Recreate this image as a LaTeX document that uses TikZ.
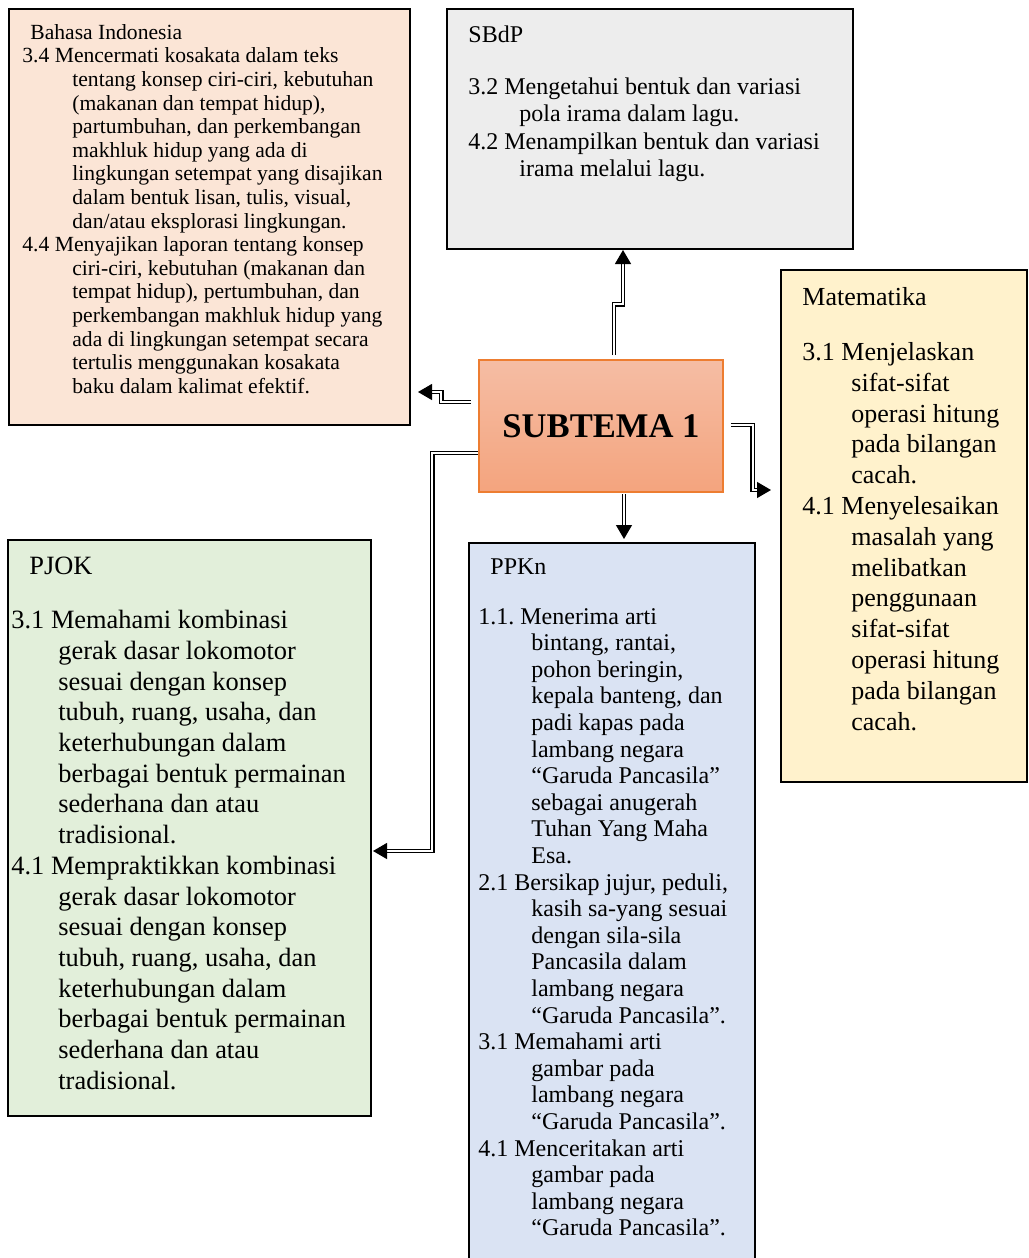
\documentclass[tikz,border=0pt]{standalone}
\usepackage{fontspec}
\setmainfont{Liberation Serif}
\usetikzlibrary{positioning,arrows.meta,fit,calc}
\definecolor{peach}{HTML}{FBE5D6}
\definecolor{lightgray}{HTML}{EDEDED}
\definecolor{mathyellow}{HTML}{FFF2CC}
\definecolor{sportgreen}{HTML}{E2EFDA}
\definecolor{civicblue}{HTML}{DAE3F3}
\definecolor{subtop}{HTML}{F5BDA4}
\definecolor{subbottom}{HTML}{F4A47E}
\definecolor{subline}{HTML}{ED7D31}
\newlength{\gantung}
\newcommand{\lanjut}{\hspace*{\gantung}}
\frenchspacing

\begin{document}
\begin{tikzpicture}[
  x=0.5pt, y=-0.5pt,
  box/.style={draw=black, line width=1pt, inner sep=0pt},
  teks/.style={anchor=north west, inner sep=0pt, align=left},
  gantung/.style={execute at begin node={\setlength{\gantung}{#1}}},
  link/.style={double, double distance=1.2pt, line width=0.6pt,
               -{Triangle[length=7pt,width=8pt]}}
]
  \useasboundingbox (0,0) rectangle (1028,1258);
  \clip (0,0) rectangle (1028,1258);

  % Subject boxes
  \node[box, fill=peach, fit={(9,9) (410,425)}] (bahasa) {};
  \node[box, fill=lightgray, fit={(447,9) (853,249)}] (sbdp) {};
  \node[box, fill=mathyellow, fit={(781,270) (1027,782)}] (mat) {};
  \node[box, fill=sportgreen, fit={(8,540) (371,1116)}] (pjok) {};
  \node[box, fill=civicblue, fit={(469,543) (755,1300)}] (ppkn) {};

  % Centre box
  \node[draw=subline, line width=0.8pt, inner sep=0pt, top color=subtop,
        bottom color=subbottom, fit={(479,360) (723,492)}] (sub) {};
  \node[font=\fontsize{17.3}{20}\selectfont\bfseries, inner sep=0pt] (subteks)
    at (sub.center) {SUBTEMA 1};

  % Texts
  \node[teks, gantung=25pt, font=\fontsize{10.8}{11.8}\selectfont] (bahasateks) at (22,24)
    {\hspace*{4pt}Bahasa Indonesia\\
     3.4 Mencermati kosakata dalam teks\\
     \lanjut tentang konsep ciri-ciri, kebutuhan\\
     \lanjut (makanan dan tempat hidup),\\
     \lanjut partumbuhan, dan perkembangan\\
     \lanjut makhluk hidup yang ada di\\
     \lanjut lingkungan setempat yang disajikan\\
     \lanjut dalam bentuk lisan, tulis, visual,\\
     \lanjut dan/atau eksplorasi lingkungan.\\
     4.4 Menyajikan laporan tentang konsep\\
     \lanjut ciri-ciri, kebutuhan (makanan dan\\
     \lanjut tempat hidup), pertumbuhan, dan\\
     \lanjut perkembangan makhluk hidup yang\\
     \lanjut ada di lingkungan setempat secara\\
     \lanjut tertulis menggunakan kosakata\\
     \lanjut baku dalam kalimat efektif.};

  \node[teks, gantung=25.5pt, font=\fontsize{12}{13.75}\selectfont] (sbdpteks) at (468,25)
    {SBdP\\[12.25pt]
     3.2 Mengetahui bentuk dan variasi\\
     \lanjut pola irama dalam lagu.\\
     4.2 Menampilkan bentuk dan variasi\\
     \lanjut irama melalui lagu.};

  \node[teks, gantung=24.5pt, font=\fontsize{13}{15.4}\selectfont] (matteks) at (802,287)
    {Matematika\\[12.1pt]
     3.1 Menjelaskan\\
     \lanjut sifat-sifat\\
     \lanjut operasi hitung\\
     \lanjut pada bilangan\\
     \lanjut cacah.\\
     4.1 Menyelesaikan\\
     \lanjut masalah yang\\
     \lanjut melibatkan\\
     \lanjut penggunaan\\
     \lanjut sifat-sifat\\
     \lanjut operasi hitung\\
     \lanjut pada bilangan\\
     \lanjut cacah.};

  \node[teks, gantung=23.5pt, font=\fontsize{13.2}{15.35}\selectfont] (pjokteks) at (11,557)
    {\hspace*{9pt}PJOK\\[11.6pt]
     3.1 Memahami kombinasi\\
     \lanjut gerak dasar lokomotor\\
     \lanjut sesuai dengan konsep\\
     \lanjut tubuh, ruang, usaha, dan\\
     \lanjut keterhubungan dalam\\
     \lanjut berbagai bentuk permainan\\
     \lanjut sederhana dan atau\\
     \lanjut tradisional.\\
     4.1 Mempraktikkan kombinasi\\
     \lanjut gerak dasar lokomotor\\
     \lanjut sesuai dengan konsep\\
     \lanjut tubuh, ruang, usaha, dan\\
     \lanjut keterhubungan dalam\\
     \lanjut berbagai bentuk permainan\\
     \lanjut sederhana dan atau\\
     \lanjut tradisional.};

  \node[teks, gantung=26.5pt, font=\fontsize{12}{13.3}\selectfont] (ppknteks) at (478,558)
    {\hspace*{6pt}PPKn\\[11.7pt]
     1.1. Menerima arti\\
     \lanjut bintang, rantai,\\
     \lanjut pohon beringin,\\
     \lanjut kepala banteng, dan\\
     \lanjut padi kapas pada\\
     \lanjut lambang negara\\
     \lanjut “Garuda Pancasila”\\
     \lanjut sebagai anugerah\\
     \lanjut Tuhan Yang Maha\\
     \lanjut Esa.\\
     2.1 Bersikap jujur, peduli,\\
     \lanjut kasih sa-yang sesuai\\
     \lanjut dengan sila-sila\\
     \lanjut Pancasila dalam\\
     \lanjut lambang negara\\
     \lanjut “Garuda Pancasila”.\\
     3.1 Memahami arti\\
     \lanjut gambar pada\\
     \lanjut lambang negara\\
     \lanjut “Garuda Pancasila”.\\
     4.1 Menceritakan arti\\
     \lanjut gambar pada\\
     \lanjut lambang negara\\
     \lanjut “Garuda Pancasila”.};

  % Links
  \draw[link] ($(sub.north)+(13,-4)$) -- ++(0,-51) -| ($(sbdp.south)+(-27,0)$);
  \draw[link] ($(sub.west)+(-7,-24)$) -- ++(-30,0) |- ($(bahasa.east)+(7,175)$);
  \draw[link] ($(sub.east)+(7,-1)$) -- ++(22,0) |- ($(mat.west)+(-9,-36)$);
  \draw[link] ($(sub.south)+(23,1)$) -- ($(ppkn.north)+(12,-3)$);
  \draw[link] ($(sub.west)+(0,27)$) -- ++(-46,0) |- ($(pjok.east)+(1,23)$);
\end{tikzpicture}
\end{document}
